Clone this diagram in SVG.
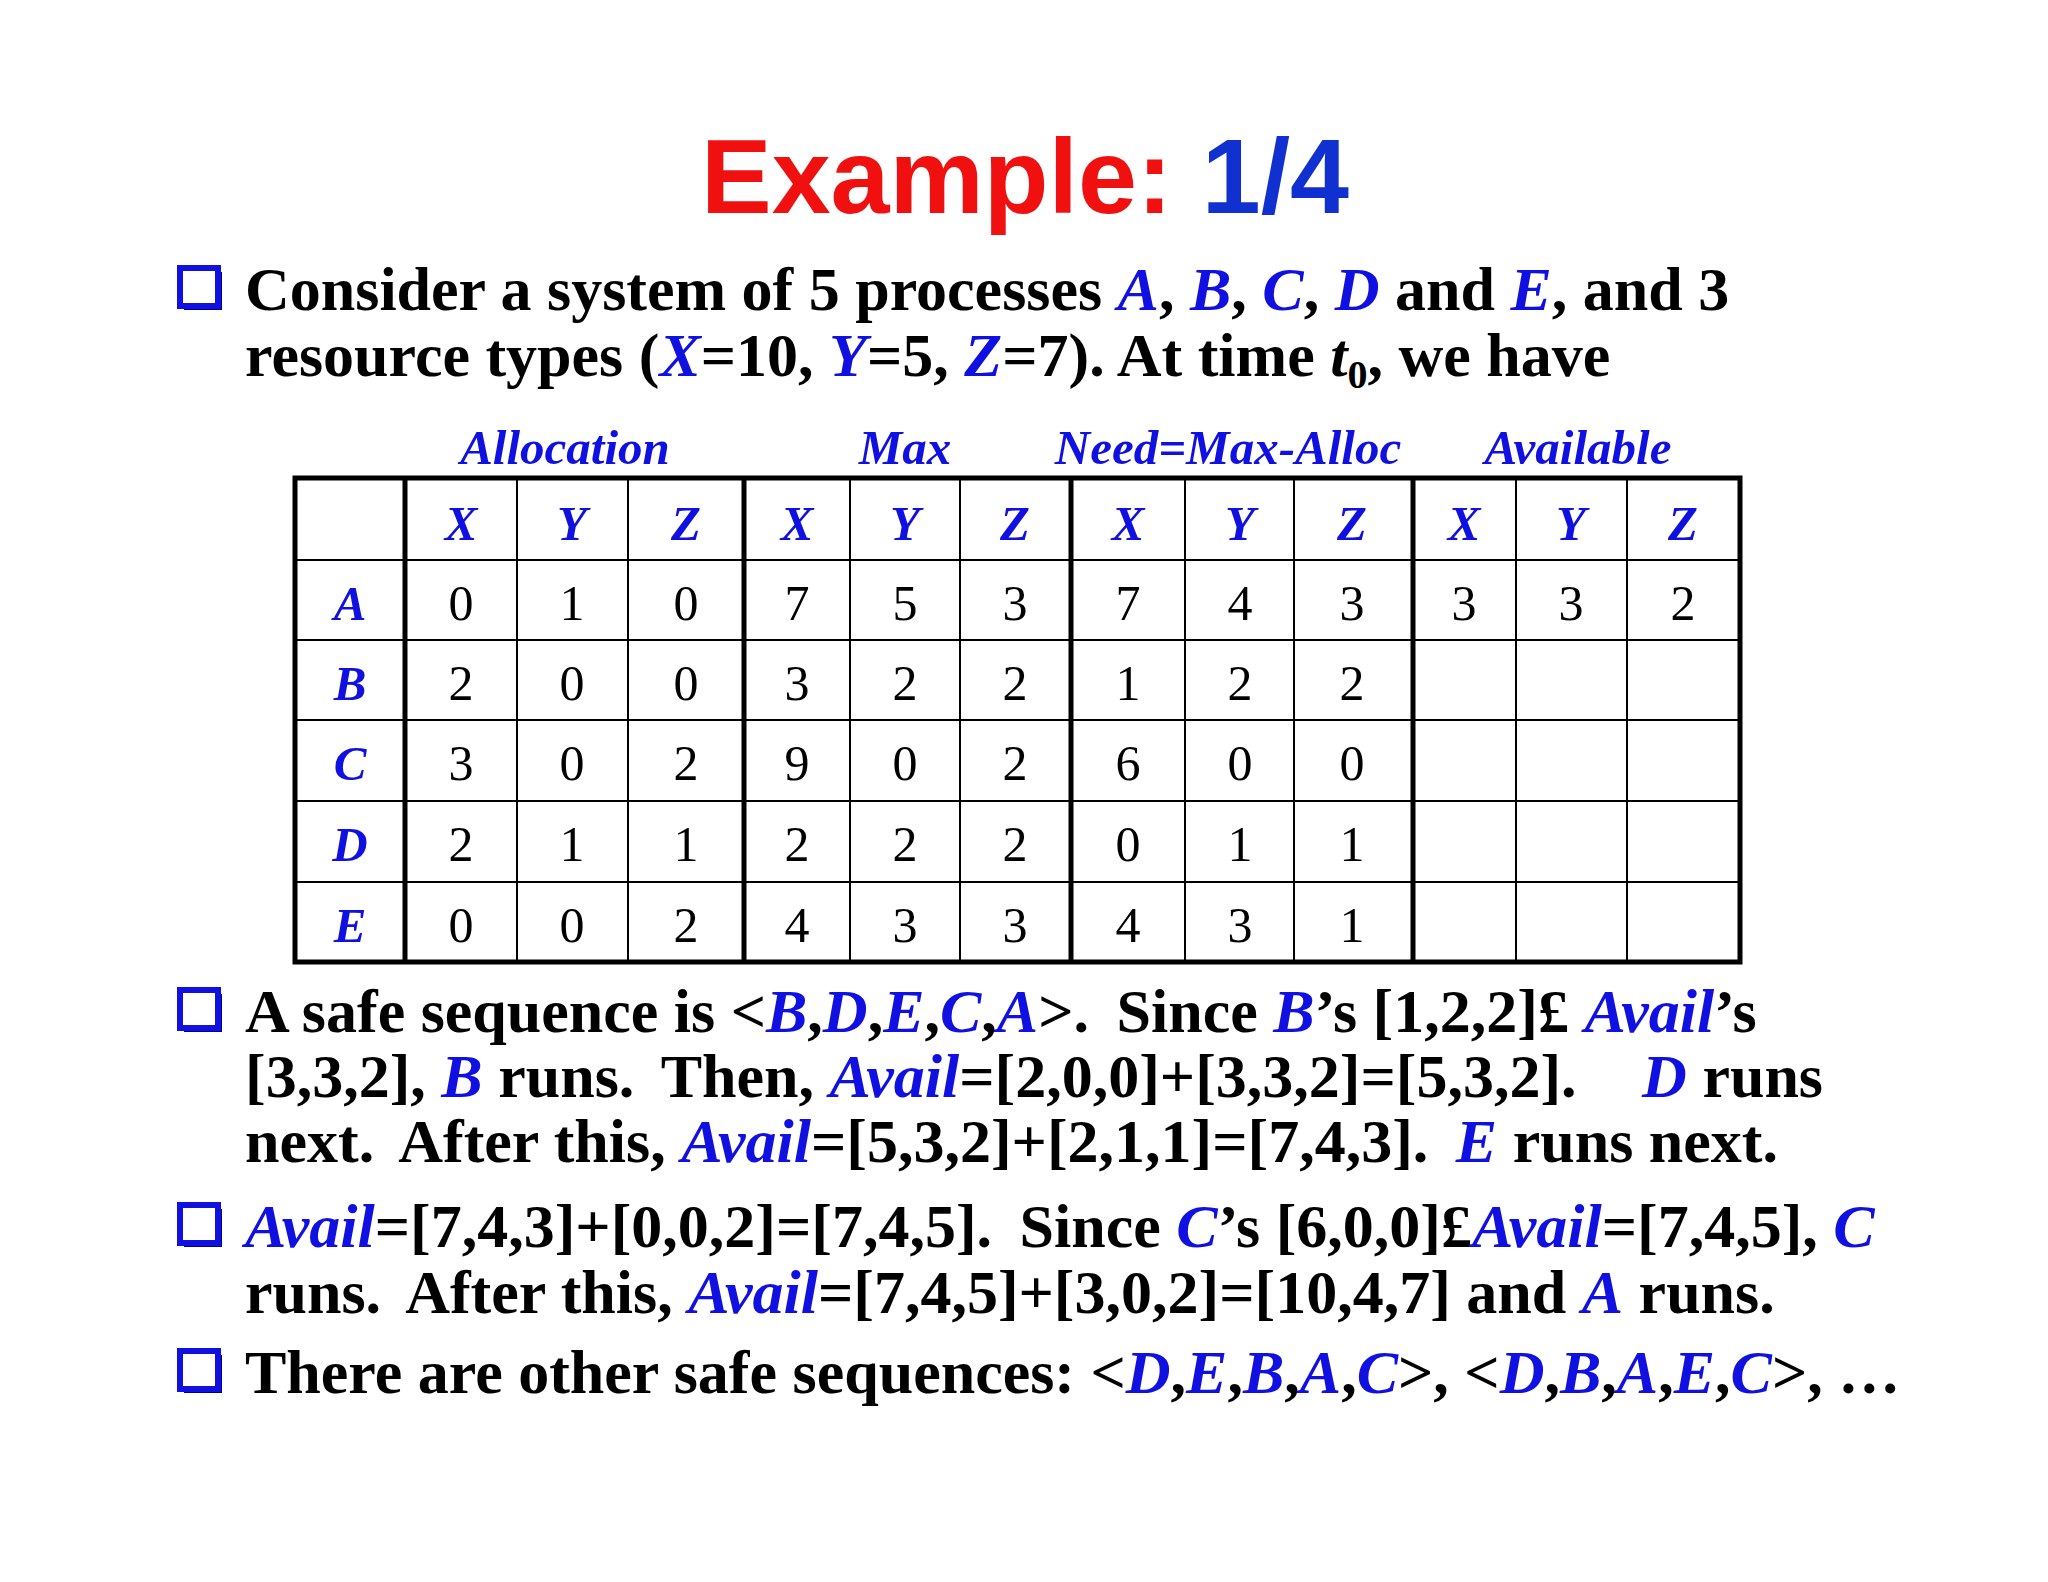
<svg xmlns="http://www.w3.org/2000/svg" width="2048" height="1582" viewBox="0 0 2048 1582">
<style>
.t{font-family:"Liberation Serif",serif;font-weight:bold;font-size:62px;fill:#000}
.b{fill:#1010e0;font-style:italic}
.h{font-family:"Liberation Serif",serif;font-weight:bold;font-style:italic;font-size:49px;fill:#1010e0;text-anchor:middle}
.c{font-family:"Liberation Serif",serif;font-size:50px;fill:#000;text-anchor:middle}
.thin{stroke:#000;stroke-width:2}
.thick{stroke:#000;stroke-width:5;fill:none}
</style>
<defs>
<g id="bul"><rect x="4" y="4" width="38" height="38" fill="#00008b"/><rect x="0" y="0" width="38" height="38" fill="#fff" stroke="#1010e0" stroke-width="6"/></g>
</defs>
<rect width="2048" height="1582" fill="#fff"/>
<g id="title"><text x="1025" y="213" text-anchor="middle" font-family="Liberation Sans,sans-serif" font-weight="bold" font-size="106"><tspan fill="#f01010">Example: </tspan><tspan fill="#1030d0">1/4</tspan></text></g>
<g id="p1">
<use href="#bul" x="180" y="268"/>
<text class="t" x="245" y="310">Consider a system of 5 processes <tspan class="b">A</tspan>, <tspan class="b">B</tspan>, <tspan class="b">C</tspan>, <tspan class="b">D</tspan> and <tspan class="b">E</tspan>, and 3</text>
<text class="t" x="245" y="376">resource types (<tspan class="b">X</tspan>=10, <tspan class="b">Y</tspan>=5, <tspan class="b">Z</tspan>=7). At time <tspan font-style="italic">t</tspan><tspan font-size="40" dy="12">0</tspan><tspan dy="-12">, we have</tspan></text>
</g>
<g id="table">
<text class="h" x="565" y="464">Allocation</text>
<text class="h" x="905" y="464">Max</text>
<text class="h" x="1228" y="464">Need=Max-Alloc</text>
<text class="h" x="1578" y="464">Available</text>
<g class="thin">
<line x1="517" y1="478" x2="517" y2="962"/><line x1="628" y1="478" x2="628" y2="962"/>
<line x1="850" y1="478" x2="850" y2="962"/><line x1="960" y1="478" x2="960" y2="962"/>
<line x1="1185" y1="478" x2="1185" y2="962"/><line x1="1294" y1="478" x2="1294" y2="962"/>
<line x1="1516" y1="478" x2="1516" y2="962"/><line x1="1627" y1="478" x2="1627" y2="962"/>
<line x1="295" y1="560" x2="1740" y2="560"/><line x1="295" y1="640" x2="1740" y2="640"/>
<line x1="295" y1="720" x2="1740" y2="720"/><line x1="295" y1="801" x2="1740" y2="801"/>
<line x1="295" y1="882" x2="1740" y2="882"/>
</g>
<g class="thick">
<rect x="295" y="478" width="1445" height="484"/>
<line x1="405" y1="478" x2="405" y2="962"/><line x1="744" y1="478" x2="744" y2="962"/>
<line x1="1071" y1="478" x2="1071" y2="962"/><line x1="1413" y1="478" x2="1413" y2="962"/>
</g>
<g class="h" font-size="50">
<text x="461" y="540">X</text><text x="572" y="540">Y</text><text x="686" y="540">Z</text>
<text x="797" y="540">X</text><text x="905" y="540">Y</text><text x="1015" y="540">Z</text>
<text x="1128" y="540">X</text><text x="1240" y="540">Y</text><text x="1352" y="540">Z</text>
<text x="1464" y="540">X</text><text x="1571" y="540">Y</text><text x="1683" y="540">Z</text>
<text x="350" y="620">A</text><text x="350" y="700">B</text><text x="350" y="780">C</text><text x="350" y="861">D</text><text x="350" y="942">E</text>
</g>
<g class="c">
<text y="620"><tspan x="461">0</tspan><tspan x="572">1</tspan><tspan x="686">0</tspan><tspan x="797">7</tspan><tspan x="905">5</tspan><tspan x="1015">3</tspan><tspan x="1128">7</tspan><tspan x="1240">4</tspan><tspan x="1352">3</tspan><tspan x="1464">3</tspan><tspan x="1571">3</tspan><tspan x="1683">2</tspan></text>
<text y="700"><tspan x="461">2</tspan><tspan x="572">0</tspan><tspan x="686">0</tspan><tspan x="797">3</tspan><tspan x="905">2</tspan><tspan x="1015">2</tspan><tspan x="1128">1</tspan><tspan x="1240">2</tspan><tspan x="1352">2</tspan></text>
<text y="780"><tspan x="461">3</tspan><tspan x="572">0</tspan><tspan x="686">2</tspan><tspan x="797">9</tspan><tspan x="905">0</tspan><tspan x="1015">2</tspan><tspan x="1128">6</tspan><tspan x="1240">0</tspan><tspan x="1352">0</tspan></text>
<text y="861"><tspan x="461">2</tspan><tspan x="572">1</tspan><tspan x="686">1</tspan><tspan x="797">2</tspan><tspan x="905">2</tspan><tspan x="1015">2</tspan><tspan x="1128">0</tspan><tspan x="1240">1</tspan><tspan x="1352">1</tspan></text>
<text y="942"><tspan x="461">0</tspan><tspan x="572">0</tspan><tspan x="686">2</tspan><tspan x="797">4</tspan><tspan x="905">3</tspan><tspan x="1015">3</tspan><tspan x="1128">4</tspan><tspan x="1240">3</tspan><tspan x="1352">1</tspan></text>
</g>
</g>
<g id="p2">
<use href="#bul" x="180" y="990"/>
<text class="t" x="245" y="1032">A safe sequence is &lt;<tspan class="b">B</tspan>,<tspan class="b">D</tspan>,<tspan class="b">E</tspan>,<tspan class="b">C</tspan>,<tspan class="b">A</tspan>&gt;.  <tspan dx="12">Since </tspan><tspan class="b">B</tspan>’s [1,2,2]£ <tspan class="b">Avail</tspan>’s</text>
<text class="t" x="245" y="1097">[3,3,2], <tspan class="b">B</tspan> runs.  <tspan dx="12">Then, </tspan><tspan class="b">Avail</tspan>=[2,0,0]+[3,3,2]=[5,3,2]. <tspan class="b" dx="50">D</tspan> runs</text>
<text class="t" x="245" y="1162">next.  <tspan dx="12">After this, </tspan><tspan class="b">Avail</tspan>=[5,3,2]+[2,1,1]=[7,4,3]. <tspan class="b" dx="12">E</tspan> runs next.</text>
</g>
<g id="p3">
<use href="#bul" x="180" y="1205"/>
<text class="t" x="245" y="1247"><tspan class="b">Avail</tspan>=[7,4,3]+[0,0,2]=[7,4,5]. <tspan dx="12">Since </tspan><tspan class="b">C</tspan>’s [6,0,0]£<tspan class="b">Avail</tspan>=[7,4,5], <tspan class="b">C</tspan></text>
<text class="t" x="245" y="1313">runs. <tspan dx="12">After this, </tspan><tspan class="b">Avail</tspan>=[7,4,5]+[3,0,2]=[10,4,7] and <tspan class="b">A</tspan> runs.</text>
</g>
<g id="p4">
<use href="#bul" x="180" y="1351"/>
<text class="t" x="245" y="1393">There are other safe sequences: &lt;<tspan class="b">D</tspan>,<tspan class="b">E</tspan>,<tspan class="b">B</tspan>,<tspan class="b">A</tspan>,<tspan class="b">C</tspan>&gt;, &lt;<tspan class="b">D</tspan>,<tspan class="b">B</tspan>,<tspan class="b">A</tspan>,<tspan class="b">E</tspan>,<tspan class="b">C</tspan>&gt;, …</text>
</g>
</svg>
